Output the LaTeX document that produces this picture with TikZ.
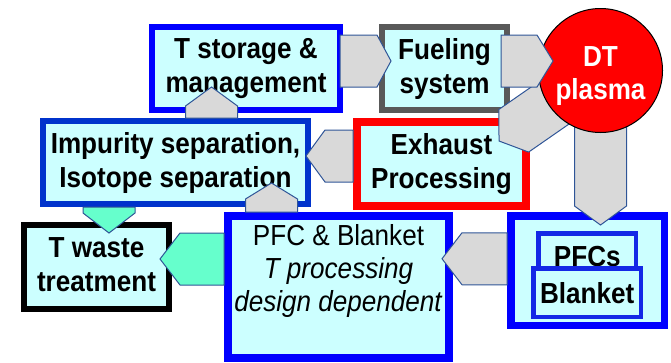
\documentclass[tikz,border=0pt]{standalone}
\usepackage{fontspec}
\setmainfont{Liberation Sans}[FakeStretch=0.9]
\usetikzlibrary{calc}

% block arrow: style, head length, back point, tip point
\newcommand\blockarrow[4]{%
  \coordinate (ba-s) at (#3);%
  \coordinate (ba-t) at (#4);%
  \coordinate (ba-m) at ($(ba-t)!#2!(ba-s)$);%
  \draw[#1] ($(ba-s)!26pt!90:(ba-t)$) -- ($(ba-m)!26pt!90:(ba-t)$) -- (ba-t)
    -- ($(ba-m)!26pt!-90:(ba-t)$) -- ($(ba-s)!26pt!-90:(ba-t)$) -- cycle;%
}

\begin{document}
\begin{tikzpicture}[x=1pt,y=-1pt,
  box/.style={rectangle, fill=r204g255b255, inner sep=0pt, outer sep=0pt, align=center,
    font=\fontsize{29}{34}\selectfont\bfseries},
  grayarrow/.style={fill=r217g217b217, draw=r47g85b151, line width=1pt},
  greenarrow/.style={fill=r102g255b204, draw=r47g85b151, line width=1pt}]
                    \useasboundingbox (0,0) rectangle (671,362);

                    % Colors
                    \definecolor{r204g255b255}{RGB}{204,255,255}%
                    \definecolor{r217g217b217}{RGB}{217,217,217}%
                    \definecolor{r102g255b204}{RGB}{102,255,204}%
                    \definecolor{r47g85b151}{RGB}{47,85,151}%
                    \definecolor{r0g0b255}{RGB}{0,0,255}%
                    \definecolor{r0g51b204}{RGB}{0,51,204}%
                    \definecolor{r20g40b230}{RGB}{20,40,230}%
                    \definecolor{r89g89b89}{RGB}{89,89,89}%
                    \definecolor{r255g0b0}{RGB}{255,0,0}%

                    % Drawing box T storage
                    \node[box, draw=r0g0b255, line width=6pt, minimum width=188pt, minimum height=83pt]
                      (storage) at (246,68.5) {T storage \&\\management};

                    % Drawing box Fueling
                    \node[box, draw=r89g89b89, line width=6pt, minimum width=125pt, minimum height=83pt]
                      (fuel) at (444.5,68.5) {Fueling\\system};

                    % Drawing box Exhaust
                    \node[box, draw=r255g0b0, line width=7.5pt, minimum width=169pt, minimum height=84pt]
                      (exhaust) at (441.5,164) {Exhaust\\Processing};

                    % Drawing box Impurity
                    \node[box, draw=r0g51b204, line width=6.5pt, minimum width=265pt, minimum height=83pt]
                      (impurity) at (175.5,162.5) {Impurity separation,\\Isotope separation};

                    % Drawing box T waste
                    \node[box, draw=black, line width=6pt, minimum width=145pt, minimum height=83.5pt]
                      (waste) at (96.5,266.75) {T waste\\treatment\rule[-4pt]{0pt}{4pt}};

                    % Drawing box PFC & Blanket
                    \node[box, draw=r0g0b255, line width=8pt, minimum width=221pt, minimum height=142pt]
                      (pfcbox) at (338.5,287) {};
                    \node[anchor=north, inner sep=0pt, align=center, font=\fontsize{29}{33}\selectfont]
                      (pfctext) at ($(pfcbox.north)+(0,8)$) {PFC \& Blanket\\\textit{T processing}\\\textit{design dependent}};

                    % Drawing box PFCs / Blanket
                    \node[box, draw=r0g0b255, line width=7.5pt, minimum width=153.5pt, minimum height=109.5pt]
                      (pfcs) at (587.75,270.75) {};
                    \node[box, draw=r20g40b230, line width=4.5pt, minimum width=97.5pt, minimum height=46pt]
                      (pfcsin) at (587.25,256.5) {PFCs};
                    \node[box, draw=r20g40b230, line width=4.5pt, minimum width=107.5pt, minimum height=48.5pt]
                      (blanket) at (587.25,292.75) {Blanket};

                    % Drawing arrows out of plasma
                    \coordinate (plasma-c) at (600.5,70.5);
                    \blockarrow{grayarrow}{18pt}{plasma-c}{$(exhaust.north east)+(-27,19)$}
                    \blockarrow{grayarrow}{19pt}{plasma-c}{$(plasma-c |- pfcs.north)+(0,9)$}

                    % Drawing DT plasma
                    \node[circle, fill=r255g0b0, draw=black, line width=1pt, minimum size=124pt, inner sep=0pt]
                      (plasma) at (plasma-c) {};
                    \node[inner sep=0pt, align=center, text=white, font=\fontsize{29}{33}\selectfont\bfseries]
                      (plasmatext) at ($(plasma.center)+(0,6)$) {DT\\plasma};

                    % Drawing arrows
                    \blockarrow{grayarrow}{14pt}{$(storage.east)+(0,-7.5)$}{$(fuel.west)+(9,-7.5)$}
                    \blockarrow{grayarrow}{16pt}{$(fuel.east)+(-6,-7.5)$}{$(fuel.east)+(46,-7.5)$}
                    \blockarrow{grayarrow}{20pt}{$(pfcs.west)+(-4,-12)$}{$(pfcbox.east |- pfcs.west)+(-7,-12)$}
                    \blockarrow{grayarrow}{19pt}{$(exhaust.west)+(-4,-8)$}{$(impurity.east |- exhaust.west)+(-2,-8)$}
                    \blockarrow{grayarrow}{19pt}{$(impurity.north)+(36,-3)$}{$(impurity.north)+(36,-34)$}
                    \blockarrow{grayarrow}{16pt}{$(pfcbox.north)+(-67,-4)$}{$(pfcbox.north)+(-67,-33)$}
                    \blockarrow{greenarrow}{20pt}{$(impurity.south)+(-66.5,3)$}{$(waste.north)+(12.5,8)$}
                    \blockarrow{greenarrow}{20pt}{$(pfcbox.west)+(-4,-28)$}{$(waste.east |- pfcbox.west)+(-9,-28)$}
                    \end{tikzpicture}
\end{document}
